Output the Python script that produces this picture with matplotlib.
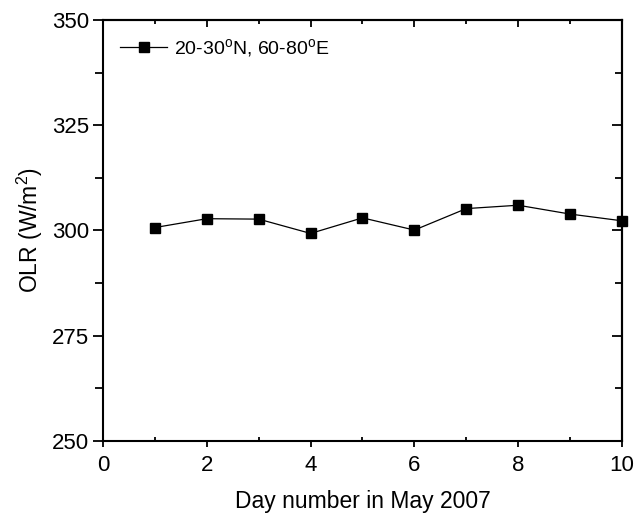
import matplotlib

matplotlib.use("Agg")
import matplotlib.pyplot as plt
from matplotlib.ticker import MultipleLocator

days = [1, 2, 3, 4, 5, 6, 7, 8, 9, 10]
olr = [300.7, 302.8, 302.7, 299.3, 303.0, 300.1, 305.2, 306.0, 303.9, 302.3]
series_label = "20-30$^{\\mathregular{o}}$N, 60-80$^{\\mathregular{o}}$E"

plt.rcParams.update({"font.family": ["Liberation Sans", "DejaVu Sans"], "mathtext.default": "regular"})

fig = plt.figure(figsize=(6.35, 5.15), dpi=100)
ax = fig.add_axes([0.1622, 0.1437, 0.8173, 0.8175])

ax.plot(days, olr, color="black", linewidth=0.9, marker="s", markersize=7.5,
        markerfacecolor="black", markeredgecolor="black", label=series_label, clip_on=False)

ax.set_xlim(0, 10)
ax.set_ylim(250, 350)
ax.xaxis.set_major_locator(MultipleLocator(2))
ax.xaxis.set_minor_locator(MultipleLocator(1))
ax.yaxis.set_major_locator(MultipleLocator(25))
ax.yaxis.set_minor_locator(MultipleLocator(12.5))

ax.tick_params(axis="x", which="major", direction="out", length=4, width=1.3, labelsize=16, pad=6)
ax.tick_params(axis="y", which="major", direction="out", length=7, width=1.3, labelsize=16, pad=3)
ax.tick_params(axis="x", which="minor", direction="in", length=3, width=1.3)
ax.tick_params(axis="y", which="minor", direction="out", length=6, width=1.3)
for spine in ax.spines.values():
    spine.set_linewidth(1.5)

# inward ticks on top and right
top = ax.secondary_xaxis("top")
top.xaxis.set_major_locator(MultipleLocator(2))
top.xaxis.set_minor_locator(MultipleLocator(1))
top.tick_params(which="major", direction="in", length=5, width=1.3, labeltop=False)
top.tick_params(which="minor", direction="in", length=3, width=1.3)
top.spines["top"].set_linewidth(1.5)
right = ax.secondary_yaxis("right")
right.yaxis.set_major_locator(MultipleLocator(25))
right.yaxis.set_minor_locator(MultipleLocator(12.5))
right.tick_params(which="major", direction="in", length=7, width=1.3, labelright=False)
right.tick_params(which="minor", direction="in", length=5, width=1.3)
right.spines["right"].set_linewidth(1.5)

ax.set_xlabel("Day number in May 2007", fontsize=16.5, labelpad=10)
ax.set_ylabel("OLR (W/m$^{2}$)", fontsize=16.5, labelpad=5)

ax.legend(loc="upper left", frameon=False, fontsize=14, handlelength=2.4,
          handletextpad=0.35, borderaxespad=0.5)

fig.savefig("out.png", dpi=100)
